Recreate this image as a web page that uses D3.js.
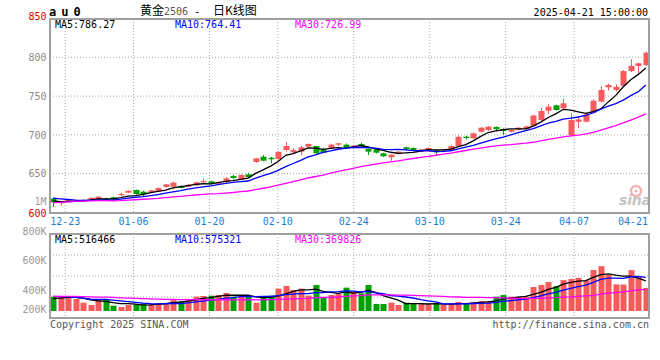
<!DOCTYPE html>
<html><head><meta charset="utf-8">
<script src="https://cdn.jsdelivr.net/npm/d3@7"></script>
<style>body{margin:0;background:#fff}svg{display:block}</style>
</head><body><svg id="c" width="660" height="360"></svg>
<script>
// ---------- data ----------
const dates = ["12-19","12-20","12-23","12-24","12-25","12-26","12-27","12-30","12-31","01-02",
"01-03","01-06","01-07","01-08","01-09","01-10","01-13","01-14","01-15","01-16",
"01-17","01-20","01-21","01-22","01-23","01-24","01-27","02-05","02-06","02-07",
"02-10","02-11","02-12","02-13","02-14","02-17","02-18","02-19","02-20","02-21",
"02-24","02-25","02-26","02-27","02-28","03-03","03-04","03-05","03-06","03-07",
"03-10","03-11","03-12","03-13","03-14","03-17","03-18","03-19","03-20","03-21",
"03-24","03-25","03-26","03-27","03-28","03-31","04-01","04-02","04-03","04-07",
"04-08","04-09","04-10","04-11","04-14","04-15","04-16","04-17","04-18","04-21"];
const opens = [618,612.5,613,614.5,615,617,617,618,619.6,622.5,
625.5,629,626.8,626,627.3,632.9,633.2,634.1,633.2,635,
639,640.2,637.1,639.3,647,642.8,649.2,665.1,671.9,670.6,
668.9,680.5,677.6,678.4,684.8,685.7,681.4,683.1,687.4,687.4,
684,688.3,682.2,681.4,676.3,671.1,675.4,684,683.1,678.4,
679.6,680.5,678.4,680.5,685.7,697.7,695.6,704.1,706.3,710.2,
707.6,704,706.7,707.6,711.5,719.2,731.2,738.1,734.3,699.9,
717,717,728.6,742.8,761.3,757.9,763.4,782.3,788.8,790];
const highs = [619,614,617.5,617,617.5,619.5,621,619,620.5,625.5,
628.5,629.5,628,629,632,637,640,635,637,639.5,
644,641,640,645.5,648.5,649,651.3,670.5,674,671.5,
679,690.9,683,685.7,689,686,683.2,688.5,689.5,689,
687,690,683,682.5,677,675,679,685,684,682,
684,681,681.5,687,699.5,699,703,710,711.5,711,
708.5,707,710,712,726,735,739.5,739,746.5,727.8,
723.5,729,746,763,766,765,783.5,797.4,793,807.3];
const lows = [607,608.5,612.5,614,614,616,616.5,615,616,621,
625,623,621,625,626.5,632,630,631,633,634,
638.5,636,636.5,638,643,642,644.5,664,666,663.4,
668,679,675.1,674,684,675.5,676.5,682,685.5,682.5,
683,684,674,676,671.5,666.8,674.5,680,679,677.5,
679,674.5,677.5,679.5,685,694,695,703,705,704.5,
700,703,705.5,706.5,710.5,718,727,731,733,697.7,
708.5,716,727.5,742,757,756,762,781,777,789];
const closes = [613,613.5,617,616,616,619,620.4,615.7,617,623.8,
628,623.8,623.8,628.6,631.6,636.3,638.4,631.6,635.8,638.9,
640.5,637.6,639.3,644,644.5,648.3,645.4,669.8,666.8,668.6,
678,685.7,680.5,684,688.3,676.3,677.1,687.4,689.2,683.1,
686.1,685.7,678.4,677.1,672.4,674.5,678.4,681.4,680.5,681.4,
683.1,677.6,680.5,685.7,697.5,696,702,709.3,710.6,707.4,
705,706.3,709.3,711,725,730.8,736.3,732.1,740.7,719.2,
720,726.5,744,757.9,764.3,762,782.3,789,792.3,806];
const volumes = [245000,256000,256000,205000,142000,103000,171000,205000,91000,68000,
103000,114000,131000,114000,131000,131000,205000,171000,205000,245000,
256000,262000,274000,308000,245000,274000,245000,142000,245000,262000,
382000,428000,359000,382000,262000,445000,228000,274000,291000,399000,
330000,302000,445000,120000,120000,142000,103000,142000,120000,120000,
115000,125000,103000,125000,155000,125000,155000,170000,170000,245000,
272000,245000,245000,245000,410000,445000,495000,425000,528000,548000,
565000,525000,700000,765000,616000,455000,452000,698000,583000,394000];
// closes / volumes before the visible window (estimated from the starting MA levels)
const priorCloses = [600,597,598,604,609,614,619,624,617,607,
607,605,610,613,611,608,610,613,612,616,
622,626,624,621,617,618,616,615,613];
const priorVolumes = [230000,260000,245000,270000,240000,255000,265000,235000,250000,260000,
245000,240000,270000,255000,250000,240000,262000,248000,255000,245000,
300000,285000,295000,280000,290000,205000,195000,210000,195000];
const maPeriods = [5, 10, 30];
const maNames = ["MA5", "MA10", "MA30"];
const priceMaLegend = ["786.27", "764.41", "726.99"];
const volumeMaLegend = ["516466", "575321", "369826"];
const priceTicks = [850, 800, 750, 700, 650, 600];
const priceGridTicks = [800, 750, 700, 650];
const volumeTickValues = [1000000, 800000, 600000, 400000, 200000];
const volumeTickLabels = ["1M", "800K", "600K", "400K", "200K"];
const dateTicks = ["12-23","01-06","01-20","02-10","02-24","03-10","03-24","04-07","04-21"];
const symbol = "au0";
const headerDate = "2025-04-21 15:00:00";

// ---------- layout ----------
const L = 50, R = 649, mainTop = 19, mainBot = 213, volTop = 234, volBot = 318;
const maColors = ["#000000", "#0000ff", "#ff00ff"];
const upColor = "#f65a5a", downColor = "#00a000";
const mono = "'DejaVu Sans Mono', monospace";
const n = dates.length;

const svg = d3.select("#c");
const x = d3.scaleLinear().domain([0, n - 1]).range([53, 645.8]);
const xGrid = d3.scaleLinear().domain([0, n - 1]).range([50, 650]);
const y = d3.scaleLinear().domain([600, 850]).range([212.5, 18.5]);
const yv = d3.scaleLinear().domain([0, 1316000]).range([311, 234]);
const yvLabel = d3.scaleLinear().domain([200000, 800000]).range([319.7, 231]);
const yvGrid = d3.scaleLinear().domain([0, 4]).range([volBot, volTop]);

function movingAvg(prior, vals, p) {
  const all = prior.concat(vals);
  return vals.map((_, i) => d3.mean(all.slice(prior.length + i - p + 1, prior.length + i + 1)));
}

// grid
const g = svg.append("g").attr("stroke", "#a8a8a8").attr("stroke-dasharray", "1,2").attr("stroke-width", 1);
priceGridTicks.forEach(t => g.append("line").attr("x1", L).attr("x2", R).attr("y1", y(t)).attr("y2", y(t)));
[1, 2, 3].forEach(t => g.append("line").attr("x1", L).attr("x2", R).attr("y1", yvGrid(t)).attr("y2", yvGrid(t)));
dateTicks.forEach(d => {
  const xx = xGrid(dates.indexOf(d));
  if (xx < R - 2) {
    g.append("line").attr("x1", xx).attr("x2", xx).attr("y1", mainTop).attr("y2", mainBot);
    g.append("line").attr("x1", xx).attr("x2", xx).attr("y1", volTop).attr("y2", volBot);
  }
});

// watermark
svg.append("circle").attr("cx", 636).attr("cy", 191).attr("r", 5).attr("fill", "none").attr("stroke", "#f2b4b4").attr("stroke-width", 2.5);
svg.append("circle").attr("cx", 636).attr("cy", 191).attr("r", 1.6).attr("fill", "#f2b4b4");
svg.append("text").attr("x", 619).attr("y", 205).attr("font-family", "'DejaVu Sans', sans-serif")
  .attr("font-size", 14).attr("font-style", "italic").attr("font-weight", "bold").attr("fill", "#c4c4c4")
  .attr("textLength", 32).text("sina");

// candles
const idx = d3.range(n);
const cg = svg.append("g");
cg.selectAll("line.w").data(idx).join("line")
  .attr("x1", i => Math.round(x(i)) + 0.5).attr("x2", i => Math.round(x(i)) + 0.5)
  .attr("y1", i => y(highs[i])).attr("y2", i => y(lows[i]))
  .attr("stroke", i => closes[i] >= opens[i] ? upColor : downColor).attr("stroke-width", 1);
cg.selectAll("rect").data(idx).join("rect")
  .attr("x", i => Math.round(x(i)) - 2.5).attr("width", 6)
  .attr("y", i => y(Math.max(opens[i], closes[i])))
  .attr("height", i => Math.max(1.2, Math.abs(y(opens[i]) - y(closes[i]))))
  .attr("fill", i => closes[i] >= opens[i] ? upColor : downColor);

// volume bars
svg.append("g").selectAll("rect").data(idx).join("rect")
  .attr("x", i => Math.round(x(i)) - 2.5).attr("width", 6)
  .attr("y", i => yv(volumes[i])).attr("height", i => yv(0) - yv(volumes[i]))
  .attr("fill", i => closes[i] >= opens[i] ? upColor : downColor);

// MA lines
maPeriods.forEach((p, k) => {
  const ma = movingAvg(priorCloses, closes, p);
  svg.append("path").attr("d", d3.line().x((d, i) => x(i)).y(d => y(d))(ma))
    .attr("fill", "none").attr("stroke", maColors[k]).attr("stroke-width", 1.3);
  const mv = movingAvg(priorVolumes, volumes, p);
  svg.append("path").attr("d", d3.line().x((d, i) => x(i)).y(d => yv(d))(mv))
    .attr("fill", "none").attr("stroke", maColors[k]).attr("stroke-width", 1.3);
});

// frames
const fr = svg.append("g").attr("fill", "none").attr("stroke", "#a0a0a0").attr("stroke-width", 2);
fr.append("rect").attr("x", L).attr("y", mainTop).attr("width", R - L).attr("height", mainBot - mainTop);
fr.append("rect").attr("x", L).attr("y", volTop).attr("width", R - L).attr("height", volBot - volTop);

// text helpers
function txt(xx, yy, s, opt = {}) {
  return svg.append("text").attr("x", xx).attr("y", yy).attr("font-family", opt.family || mono)
    .attr("font-size", opt.size || 10).attr("fill", opt.fill || "#000")
    .attr("text-anchor", opt.anchor || "start").attr("font-weight", opt.weight || "normal").text(s);
}

// price axis labels
priceTicks.forEach(t => {
  let yy = y(t);
  if (t === 850) yy -= 2.3;
  if (t === 600) yy += 0.8;
  txt(46.5, yy + 3.6, String(t), { anchor: "end", fill: (t === 850 || t === 600) ? "#e00000" : "#8a8a8a" });
});
// volume axis labels
volumeTickValues.forEach((v, k) => {
  const yy = Math.min(yvLabel(v), 309.3);
  txt(46.5, yy + 3.6, volumeTickLabels[k], { anchor: "end", fill: "#9a9a9a" });
});
// date labels
dateTicks.forEach(d => {
  const xx = xGrid(dates.indexOf(d));
  const end = xx + 15 > 648;
  txt(end ? 648 : xx, 225.3, d, { anchor: end ? "end" : "middle", fill: "#1a7fd6" });
});

// legends
const legendX = [55, 175, 295];
maNames.forEach((m, k) => {
  txt(legendX[k], 27.6, m + ":" + priceMaLegend[k], { fill: maColors[k] });
  txt(legendX[k], 242.5, m + ":" + volumeMaLegend[k], { fill: maColors[k] });
});

// header
svg.append("text").attr("x", 49).attr("y", 15.7).attr("font-family", mono).attr("font-size", 12)
  .attr("font-weight", "bold").attr("letter-spacing", 5).attr("fill", "#000").text(symbol);
const title = svg.append("text").attr("y", 14.8).attr("font-family", "'Noto Sans CJK SC', sans-serif").attr("font-size", 12).attr("fill", "#000");
title.append("tspan").attr("x", 140).text("黄金");
title.append("tspan").attr("font-family", mono).attr("font-size", 10).attr("fill", "#555").text("2506");
title.append("tspan").attr("font-family", mono).attr("font-size", 10).text(" - ");
title.append("tspan").attr("x", 213).text("日K线图");
txt(648, 15.6, headerDate, { anchor: "end" });

// footer
txt(50, 327.6, "Copyright 2025 SINA.COM", { fill: "#555" });
txt(649, 327.6, "http://finance.sina.com.cn", { anchor: "end", fill: "#555" });
</script></body></html>
